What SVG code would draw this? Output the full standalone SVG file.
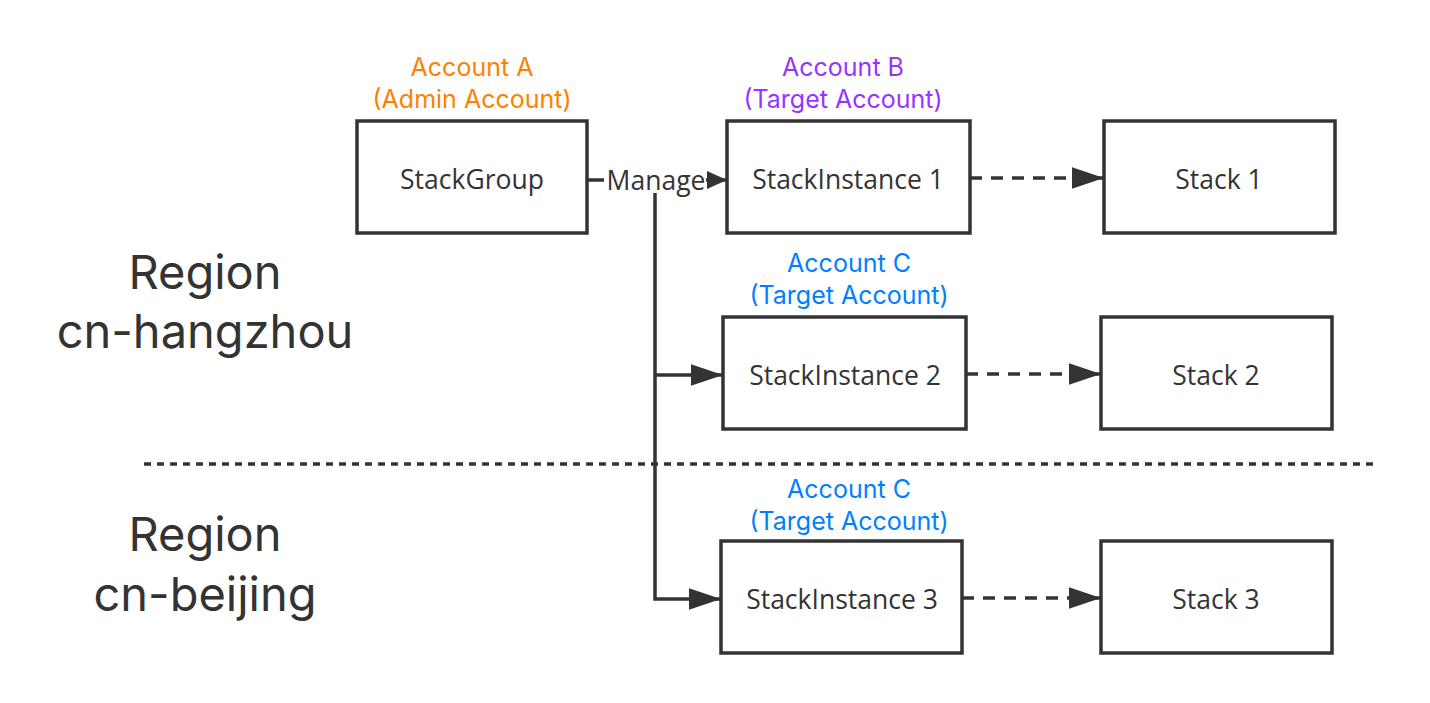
<svg xmlns="http://www.w3.org/2000/svg" width="1430" height="703" viewBox="0 0 1430 703">
<defs>
<style>
.box{fill:#fff;stroke:#333;stroke-width:3.5}
.t{font-family:"Open Sans","Noto Sans",sans-serif;font-size:26.5px;fill:#333;text-anchor:middle;dominant-baseline:central}
.ac{font-family:Inter,"Open Sans",sans-serif;font-size:25px;text-anchor:middle;dominant-baseline:central}
.big{font-family:Inter,"Open Sans",sans-serif;font-size:47px;fill:#333;text-anchor:middle;dominant-baseline:central}
.or{fill:#FF8000}.pu{fill:#9933FF}.bl{fill:#007FFF}
.ln{fill:none;stroke:#333;stroke-width:3.5}
.da{stroke-dasharray:12 9}
</style>
<marker id="a" viewBox="0 0 30 20" refX="30" refY="10" markerWidth="32" markerHeight="22" markerUnits="userSpaceOnUse" orient="auto">
<path d="M0,0 L30,10 L0,20 Z" fill="#333"/>
</marker>
<marker id="s" viewBox="0 0 20 18" refX="20" refY="9" markerWidth="20" markerHeight="18" markerUnits="userSpaceOnUse" orient="auto">
<path d="M0,0 L20,9 L0,18 Z" fill="#333"/>
</marker>
</defs>
<g id="labels">
<text class="big" x="205" y="271">Region</text>
<text class="big" x="205" y="330">cn-hangzhou</text>
<text class="big" x="205" y="533">Region</text>
<text class="big" x="205" y="593">cn-beijing</text>
</g>
<g id="connectors">
<line class="ln" x1="144" y1="464" x2="1376" y2="464" stroke-dasharray="7 6" stroke-width="3"/>
<line class="ln" x1="587" y1="180" x2="604" y2="180"/>
<line class="ln" x1="706" y1="180" x2="727" y2="180" marker-end="url(#s)"/>
<polyline class="ln" points="655,193 655,599 721,599" marker-end="url(#a)"/>
<line class="ln" x1="655" y1="375" x2="723" y2="375" marker-end="url(#a)"/>
<line class="ln da" x1="970" y1="178" x2="1104" y2="178" marker-end="url(#a)"/>
<line class="ln da" x1="966" y1="374" x2="1101" y2="374" marker-end="url(#a)"/>
<line class="ln da" x1="962" y1="598" x2="1101" y2="598" marker-end="url(#a)"/>
<text class="t" x="656" y="180">Manage</text>
</g>
<g id="stackgroup">
<text class="ac or" x="472" y="67">Account A</text>
<text class="ac or" x="472" y="99">(Admin Account)</text>
<rect class="box" x="357" y="121" width="230" height="112"/>
<text class="t" x="472" y="179">StackGroup</text>
</g>
<g id="inst1">
<text class="ac pu" x="843" y="67">Account B</text>
<text class="ac pu" x="843" y="99">(Target Account)</text>
<rect class="box" x="727" y="121" width="243" height="112"/>
<text class="t" x="848" y="179">StackInstance 1</text>
</g>
<g id="stack1">
<rect class="box" x="1104" y="121" width="231" height="112"/>
<text class="t" x="1219" y="179">Stack 1</text>
</g>
<g id="inst2">
<text class="ac bl" x="849" y="263">Account C</text>
<text class="ac bl" x="849" y="295">(Target Account)</text>
<rect class="box" x="723" y="317" width="243" height="112"/>
<text class="t" x="845" y="375">StackInstance 2</text>
</g>
<g id="stack2">
<rect class="box" x="1101" y="317" width="231" height="112"/>
<text class="t" x="1216" y="375">Stack 2</text>
</g>
<g id="inst3">
<text class="ac bl" x="849" y="489">Account C</text>
<text class="ac bl" x="849" y="521">(Target Account)</text>
<rect class="box" x="721" y="541" width="241" height="112"/>
<text class="t" x="842" y="599">StackInstance 3</text>
</g>
<g id="stack3">
<rect class="box" x="1101" y="541" width="231" height="112"/>
<text class="t" x="1216" y="599">Stack 3</text>
</g>
</svg>
